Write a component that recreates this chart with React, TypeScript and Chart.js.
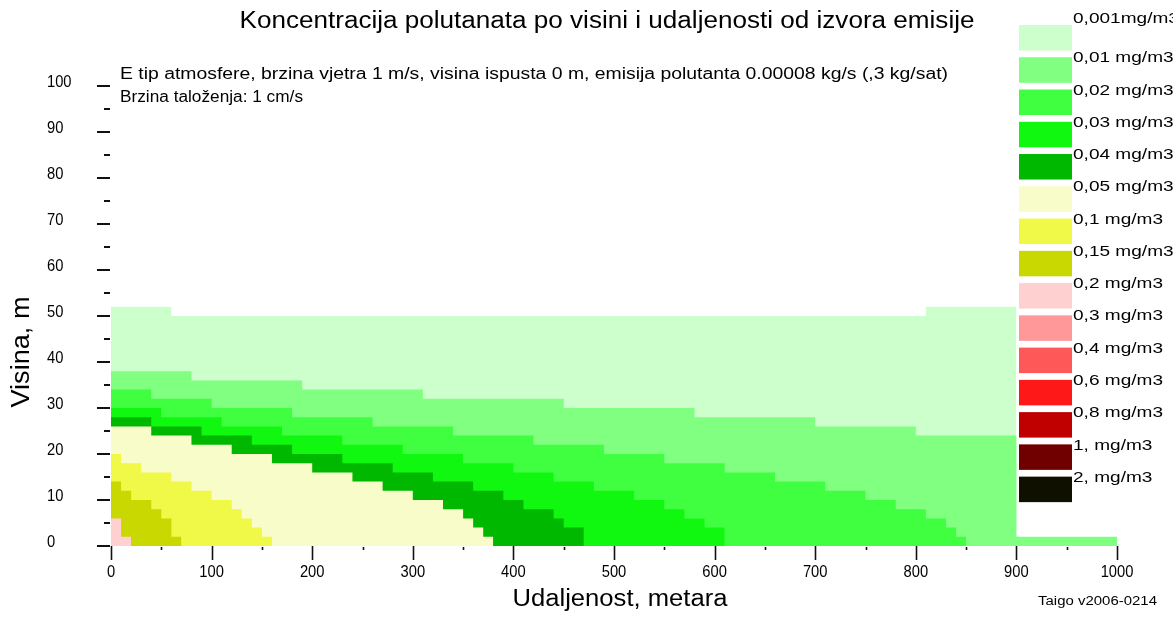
import React, { useEffect, useRef } from 'react';
import { Chart, registerables } from 'chart.js';

Chart.register(...registerables);

// ---- data (distance in m where a step starts, height in m held until next step) ----
const levelLabels = [
  '0,001mg/m3', '0,01 mg/m3', '0,02 mg/m3', '0,03 mg/m3', '0,04 mg/m3',
  '0,05 mg/m3', '0,1 mg/m3', '0,15 mg/m3', '0,2 mg/m3', '0,3 mg/m3',
  '0,4 mg/m3', '0,6 mg/m3', '0,8 mg/m3', '1, mg/m3', '2, mg/m3',
];
const levelColors = [
  '#ccffcc', '#80ff80', '#40ff40', '#10f810', '#00b800',
  '#f8fcc8', '#f0f848', '#c8d800', '#ffd0d0', '#ff9898',
  '#ff5858', '#ff1818', '#c00000', '#700000', '#101000',
];

const dist0001 = [0, 60, 810, 900];
const height0001 = [52, 50, 52, 52];
const dist001 = [0, 80, 190, 310, 450, 580, 700, 800, 900, 1000];
const height001 = [38, 36, 34, 32, 30, 28, 26, 24, 2, 2];
const dist002 = [0, 40, 100, 180, 260, 340, 420, 490, 550, 610, 660, 710, 750, 780, 810, 830, 840, 850];
const height002 = [34, 32, 30, 28, 26, 24, 22, 20, 18, 16, 14, 12, 10, 8, 6, 4, 2, 2];
const dist003 = [0, 50, 110, 170, 230, 290, 350, 400, 440, 480, 520, 550, 570, 590, 610];
const height003 = [30, 28, 26, 24, 22, 20, 18, 16, 14, 12, 10, 8, 6, 4, 4];
const dist004 = [0, 40, 90, 140, 180, 230, 280, 320, 360, 390, 410, 440, 450, 470];
const height004 = [28, 26, 24, 22, 20, 18, 16, 14, 12, 10, 8, 6, 4, 4];
const dist005 = [0, 40, 80, 120, 160, 200, 240, 270, 300, 330, 350, 360, 370, 380];
const height005 = [26, 24, 22, 20, 18, 16, 14, 12, 10, 8, 6, 4, 2, 2];
const dist01 = [0, 10, 30, 60, 80, 100, 120, 130, 140, 150, 160];
const height01 = [20, 18, 16, 14, 12, 10, 8, 6, 4, 2, 2];
const dist015 = [0, 10, 20, 40, 50, 60, 70];
const height015 = [14, 12, 10, 8, 6, 2, 2];
const dist02 = [0, 10, 20];
const height02 = [6, 2, 2];

const seriesDist = [dist0001, dist001, dist002, dist003, dist004, dist005, dist01, dist015, dist02];
const seriesHeight = [height0001, height001, height002, height003, height004, height005, height01, height015, height02];

const xTickValues = [0, 100, 200, 300, 400, 500, 600, 700, 800, 900, 1000];
const xTickLabels = ['0', '100', '200', '300', '400', '500', '600', '700', '800', '900', '1000'];
const yTickValues = [0, 10, 20, 30, 40, 50, 60, 70, 80, 90, 100];
const yTickLabels = ['0', '10', '20', '30', '40', '50', '60', '70', '80', '90', '100'];

const titleText = 'Koncentracija polutanata po visini i udaljenosti od izvora emisije';
const noteLine1 = 'E tip atmosfere, brzina vjetra 1 m/s, visina ispusta 0 m, emisija polutanta 0.00008 kg/s (,3 kg/sat)';
const noteLine2 = 'Brzina taloženja: 1 cm/s';
const xTitle = 'Udaljenost, metara';
const yTitle = 'Visina, m';
const footer = 'Taigo v2006-0214';

const FONT = '"Liberation Sans", Arial, sans-serif';

function fitText(ctx: CanvasRenderingContext2D, text: string, x: number, y: number, width: number, size: number, align: CanvasTextAlign) {
  ctx.save();
  ctx.font = `${size}px ${FONT}`;
  const w = ctx.measureText(text).width;
  const s = width / w;
  ctx.translate(x, y);
  ctx.scale(s, 1);
  ctx.textAlign = align;
  ctx.textBaseline = 'middle';
  ctx.fillText(text, 0, 0);
  ctx.restore();
}

const overlayPlugin = {
  id: 'overlay',
  afterDraw(chart: any) {
    const ctx: CanvasRenderingContext2D = chart.ctx;
    const xs = chart.scales.x;
    const ys = chart.scales.y;
    const area = chart.chartArea;
    ctx.save();
    ctx.fillStyle = '#000';
    ctx.strokeStyle = '#111';

    // y ticks
    ctx.lineWidth = 2;
    for (let v = 0; v <= 100; v += 5) {
      const py = Math.round(ys.getPixelForValue(v));
      const major = v % 10 === 0;
      ctx.beginPath();
      ctx.moveTo(area.left - (major ? 14 : 7), py);
      ctx.lineTo(area.left - 1, py);
      ctx.stroke();
    }
    // x ticks
    ctx.lineWidth = 1.6;
    for (let v = 0; v <= 1000; v += 50) {
      const px = Math.round(xs.getPixelForValue(v)) + 0.5;
      const major = v % 100 === 0;
      ctx.beginPath();
      ctx.moveTo(px, area.bottom + (major ? 0 : 1));
      ctx.lineTo(px, area.bottom + (major ? 14 : 4));
      ctx.stroke();
    }

    // tick labels
    ctx.save();
    ctx.font = `16px ${FONT}`;
    ctx.textBaseline = 'middle';
    ctx.textAlign = 'left';
    yTickValues.forEach((v, i) => {
      ctx.save();
      ctx.translate(47, ys.getPixelForValue(v) - 3);
      ctx.scale(0.92, 1);
      ctx.fillText(yTickLabels[i], 0, 0);
      ctx.restore();
    });
    ctx.textAlign = 'center';
    xTickValues.forEach((v, i) => {
      ctx.save();
      ctx.translate(xs.getPixelForValue(v), area.bottom + 27);
      ctx.scale(0.92, 1);
      ctx.fillText(xTickLabels[i], 0, 0);
      ctx.restore();
    });
    ctx.restore();

    // titles and notes
    fitText(ctx, titleText, 607, 22, 735, 23, 'center');
    fitText(ctx, noteLine1, 120, 75, 828, 16, 'left');
    fitText(ctx, noteLine2, 120, 98, 183, 16, 'left');
    fitText(ctx, xTitle, 620, 600, 215, 23, 'center');
    fitText(ctx, footer, 1038, 602, 119, 12, 'left');

    ctx.save();
    ctx.translate(22, 352);
    ctx.rotate(-Math.PI / 2);
    fitText(ctx, yTitle, 0, 0, 111, 25, 'center');
    ctx.restore();

    // legend
    const step = 32.26;
    levelLabels.forEach((lab, i) => {
      const top = 25 + i * step;
      ctx.fillStyle = levelColors[i];
      ctx.fillRect(1019, top, 53, 25.5);
      ctx.fillStyle = '#000';
      ctx.save();
      ctx.font = `15px ${FONT}`;
      ctx.textAlign = 'left';
      ctx.textBaseline = 'middle';
      const cy = i === 0 ? 19 : top + 1;
      ctx.translate(1073, cy);
      ctx.scale(1.27, 1);
      ctx.fillText(lab, 0, 0);
      ctx.restore();
    });

    ctx.restore();
  },
};

export default function App() {
  const ref = useRef<HTMLCanvasElement | null>(null);
  useEffect(() => {
    if (!ref.current) return;
    const datasets = seriesDist
      .map((d, i) => ({
        label: levelLabels[i],
        data: d.map((x, j) => ({ x, y: seriesHeight[i][j] })),
        stepped: 'before' as const,
        fill: 'origin',
        backgroundColor: levelColors[i],
        borderColor: 'rgba(0,0,0,0)',
        borderWidth: 0,
        pointRadius: 0,
        pointHoverRadius: 0,
        tension: 0,
      }))
      .reverse();
    const chart = new Chart(ref.current, {
      type: 'line',
      data: { datasets: datasets as any },
      options: {
        animation: false,
        responsive: false,
        events: [],
        layout: { padding: { left: 111, right: 56, top: 86, bottom: 73 } },
        plugins: { legend: { display: false }, tooltip: { enabled: false }, title: { display: false } },
        scales: {
          x: { type: 'linear', min: 0, max: 1000, display: false },
          y: { type: 'linear', min: 0, max: 100, display: false },
        },
      },
      plugins: [overlayPlugin],
    });
    return () => chart.destroy();
  }, []);
  return (
    <div style={{ position: 'fixed', left: 0, top: 0, width: 1173, height: 619, background: '#fff' }}>
      <canvas ref={ref} width={1173} height={619} style={{ width: 1173, height: 619, display: 'block' }} />
    </div>
  );
}
